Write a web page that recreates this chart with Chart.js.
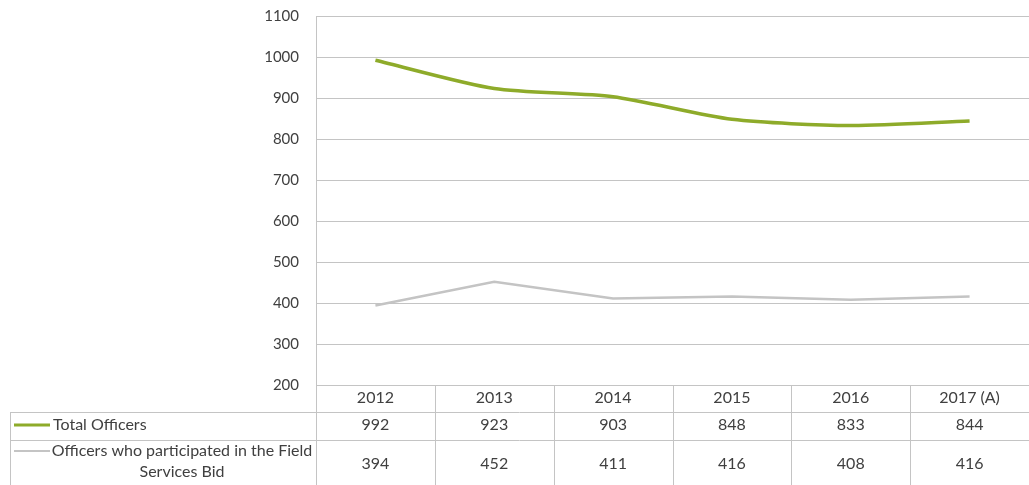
<!DOCTYPE html>
<html>
<head>
<meta charset="utf-8">
<script src="https://cdn.jsdelivr.net/npm/chart.js@4.4.1/dist/chart.umd.min.js"></script>
<style>
  html, body { margin: 0; padding: 0; background: #fff; }
</style>
</head>
<body>
<canvas id="myChart" width="1029" height="485"></canvas>
<script>
const categories = ['2012', '2013', '2014', '2015', '2016', '2017 (A)'];
const totalOfficers = [992, 923, 903, 848, 833, 844];
const bidOfficers = [394, 452, 411, 416, 408, 416];
const seriesNames = ['Total Officers', 'Officers who participated in the Field Services Bid'];
const yMin = 200, yMax = 1100, yStep = 100;

const textColor = '#404040';
const lineGray = '#c4c4c4';
const fontFamily = 'Lato, "Open Sans", sans-serif';

// draws the data table under the plot, using the x scale for column positions
const dataTable = {
  id: 'dataTable',
  afterDraw(chart) {
    const c = chart.ctx;
    const x = chart.scales.x;
    const area = chart.chartArea;
    const colW = x.getPixelForValue(1) - x.getPixelForValue(0);
    const left = area.left;
    const right = left + colW * categories.length;
    const top = area.bottom;
    const row1 = top + 27, row2 = row1 + 28, bottom = 485;
    const tableLeft = 10;

    c.save();
    c.strokeStyle = lineGray;
    c.lineWidth = 1;
    c.beginPath();
    c.moveTo(tableLeft, row1 + 0.5); c.lineTo(right, row1 + 0.5);
    c.moveTo(tableLeft, row2 + 0.5); c.lineTo(right, row2 + 0.5);
    c.moveTo(tableLeft + 0.5, row1); c.lineTo(tableLeft + 0.5, bottom);
    for (let i = 0; i <= categories.length; i++) {
      const xx = Math.round(left + colW * i) + 0.5;
      c.moveTo(xx, top); c.lineTo(xx, bottom);
    }
    c.stroke();

    // legend keys
    const keys = [['#8eab2a', 3, row1 + 13], [lineGray, 2, row2 + 11]];
    keys.forEach(k => {
      c.strokeStyle = k[0];
      c.lineWidth = k[1];
      c.beginPath();
      c.moveTo(14, k[2]); c.lineTo(50, k[2]);
      c.stroke();
    });

    c.fillStyle = textColor;
    c.font = '16px ' + fontFamily;
    c.textBaseline = 'middle';
    c.textAlign = 'left';
    c.fillText(seriesNames[0], 53, row1 + 13);
    c.textAlign = 'center';
    const words = seriesNames[1].split(' ');
    c.fillText(words.slice(0, 6).join(' '), 182, row2 + 11);
    c.fillText(words.slice(6).join(' '), 182, row2 + 32);

    categories.forEach((cat, i) => {
      const cx = x.getPixelForValue(i);
      c.fillText(cat, cx, top + 13);
      c.fillText(String(totalOfficers[i]), cx, row1 + 13);
      c.fillText(String(bidOfficers[i]), cx, row2 + 24);
    });
    c.restore();
  }
};

const ctx = document.getElementById('myChart');
const myChart = new Chart(ctx, {
  type: 'line',
  data: {
    labels: categories,
    datasets: [{
      label: seriesNames[0],
      data: totalOfficers,
      borderColor: '#8eab2a',
      borderWidth: 3.5,
      pointRadius: 0,
      tension: 0.25
    }, {
      label: seriesNames[1],
      data: bidOfficers,
      borderColor: lineGray,
      borderWidth: 2.5,
      pointRadius: 0,
      tension: 0
    }]
  },
  options: {
    responsive: false,
    animation: false,
    layout: { padding: { top: 16, right: -13, bottom: 100, left: 0 } },
    plugins: { legend: { display: false }, tooltip: { enabled: false } },
    scales: {
      x: { display: false, offset: true },
      y: {
        min: yMin,
        max: yMax,
        afterFit(s) { s.width = 316; s.paddingTop = 0; s.paddingBottom = 0; },
        ticks: {
          stepSize: yStep,
          padding: 17,
          color: textColor,
          font: { family: fontFamily, size: 15 },
          callback: (v) => String(v)
        },
        grid: { color: lineGray, lineWidth: 1, tickLength: 0 },
        border: { color: lineGray }
      }
    }
  },
  plugins: [dataTable]
});
</script>
</body>
</html>
